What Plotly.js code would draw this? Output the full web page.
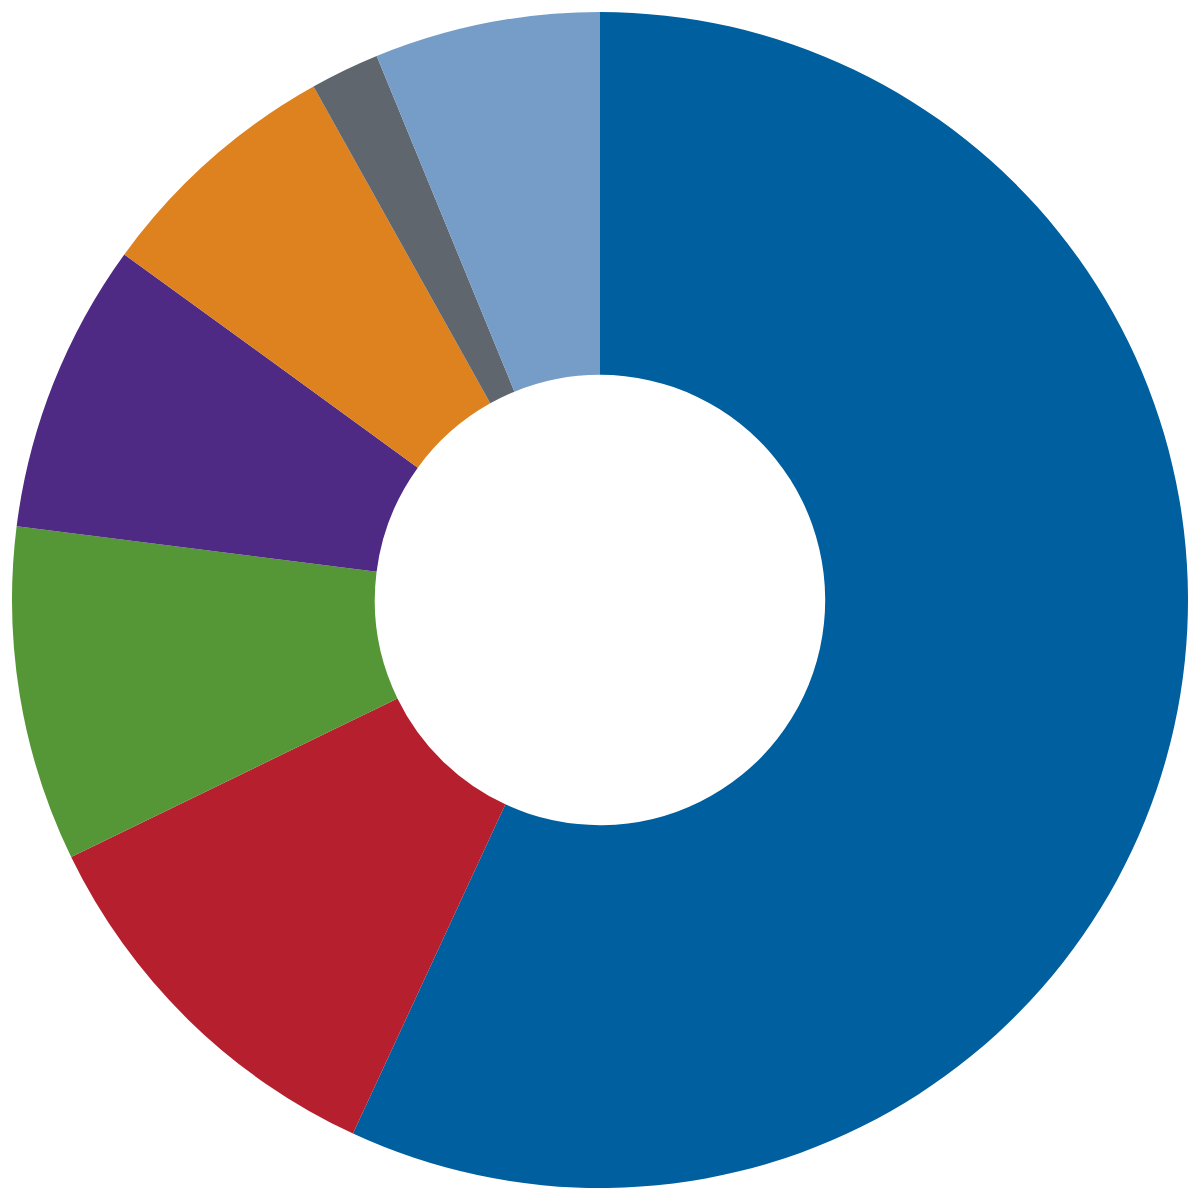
<!DOCTYPE html>
<html>
<head>
<meta charset="utf-8">
<script src="https://cdn.plot.ly/plotly-3.0.1.min.js"></script>
<style>
  html,body{margin:0;padding:0;background:#fff;}
  #chart{width:1200px;height:1200px;}
</style>
</head>
<body>
<div id="chart"></div>
<script>
// ── Donut: shares (clockwise from 12 o'clock) ──
const sliceLabels = ['A','B','C','D','E','F','G'];
const sliceValues = [56.9, 10.9, 9.2, 8.0, 6.9, 1.9, 6.2];
const sliceColors = ['#005f9e','#b51f2e','#559736','#4e2a84','#dd821f','#5f666e','#769cc8'];

const traces = [{
  type:'pie', labels:sliceLabels, values:sliceValues, hole:0.383,
  sort:false, direction:'clockwise', rotation:0,
  marker:{colors:sliceColors, line:{width:0}},
  textinfo:'none', hoverinfo:'label+percent'
}];

const layout = {
  width:1200, height:1200,
  paper_bgcolor:'white', plot_bgcolor:'white',
  showlegend:false, margin:{l:12,r:12,t:12,b:12}
};

Plotly.newPlot('chart', traces, layout, {displayModeBar:false, staticPlot:true});
</script>
</body>
</html>
